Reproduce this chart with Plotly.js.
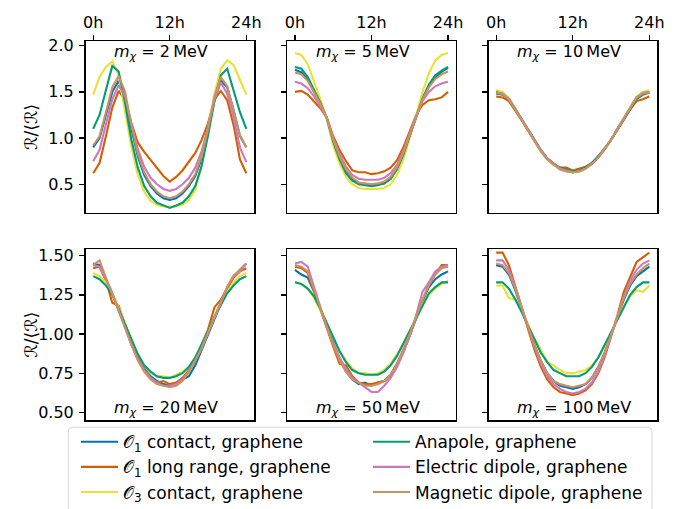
<!DOCTYPE html>
<html><head><meta charset="utf-8">
<script src="https://cdn.plot.ly/plotly-3.0.1.min.js"></script>
<style>html,body{margin:0;padding:0;background:#fff}</style>
</head><body><div id="chart" style="width:679px;height:509px"></div>
<script>
const hours = [0,1,2,3,4,5,6,7,8,9,10,11,12,13,14,15,16,17,18,19,20,21,22,23,24];
const tickHours = [0,12,24];
const tickHourLabels = ['0h','12h','24h'];
const massLabels = ['2','5','10','20','50','100'];
const seriesNames = ['𝒪<sub>1</sub> contact, graphene','𝒪<sub>1</sub> long range, graphene','𝒪<sub>3</sub> contact, graphene','Anapole, graphene','Electric dipole, graphene','Magnetic dipole, graphene'];
const seriesColors = ['#0173B2','#D55E00','#ECE133','#029E73','#CC78BC','#CA9161'];

// m_chi = 2 MeV
const blue_2   = [0.90,1.00,1.25,1.50,1.62,1.45,1.10,0.80,0.60,0.48,0.40,0.35,0.33,0.35,0.40,0.48,0.59,0.78,1.08,1.40,1.62,1.55,1.30,1.02,0.90];
const orange_2 = [0.62,0.73,1.02,1.33,1.51,1.41,1.16,0.95,0.85,0.76,0.67,0.59,0.53,0.58,0.65,0.74,0.84,0.98,1.16,1.42,1.51,1.41,1.14,0.77,0.62];
const yellow_2 = [1.47,1.66,1.77,1.83,1.68,1.30,0.90,0.60,0.42,0.32,0.28,0.26,0.26,0.26,0.28,0.33,0.44,0.70,1.10,1.48,1.75,1.84,1.79,1.62,1.47];
const green_2  = [1.10,1.25,1.52,1.78,1.72,1.38,0.98,0.68,0.48,0.37,0.30,0.27,0.245,0.27,0.30,0.37,0.48,0.70,1.03,1.40,1.68,1.75,1.50,1.28,1.10];
const pink_2   = [0.75,0.87,1.15,1.42,1.57,1.45,1.15,0.88,0.69,0.57,0.50,0.45,0.43,0.45,0.50,0.57,0.68,0.86,1.12,1.42,1.60,1.48,1.22,0.90,0.74];
const tan_2    = [0.92,1.02,1.28,1.55,1.67,1.50,1.14,0.83,0.63,0.50,0.42,0.37,0.35,0.37,0.42,0.50,0.61,0.81,1.10,1.45,1.66,1.56,1.30,1.03,0.90];

// m_chi = 5 MeV
const blue_5   = [1.74,1.71,1.63,1.50,1.37,1.22,0.97,0.78,0.64,0.55,0.51,0.50,0.49,0.50,0.51,0.56,0.67,0.83,1.03,1.23,1.42,1.56,1.65,1.72,1.76];
const orange_5 = [1.50,1.51,1.47,1.40,1.32,1.22,1.02,0.87,0.75,0.65,0.63,0.63,0.61,0.62,0.64,0.68,0.76,0.90,1.07,1.25,1.36,1.41,1.42,1.44,1.50];
const yellow_5 = [1.92,1.90,1.80,1.62,1.42,1.20,0.92,0.72,0.58,0.50,0.46,0.45,0.45,0.45,0.46,0.50,0.60,0.77,1.00,1.25,1.50,1.70,1.84,1.90,1.92];
const green_5  = [1.77,1.75,1.66,1.52,1.38,1.21,0.96,0.77,0.62,0.54,0.50,0.49,0.48,0.49,0.51,0.56,0.66,0.82,1.02,1.23,1.43,1.58,1.68,1.73,1.77];
const pink_5   = [1.61,1.59,1.54,1.45,1.34,1.22,1.00,0.83,0.69,0.60,0.56,0.55,0.55,0.55,0.57,0.62,0.71,0.86,1.05,1.24,1.40,1.50,1.56,1.59,1.61];
const tan_5    = [1.71,1.69,1.62,1.50,1.37,1.22,0.98,0.80,0.66,0.57,0.52,0.51,0.50,0.51,0.53,0.58,0.68,0.84,1.04,1.24,1.42,1.55,1.64,1.69,1.72];

// m_chi = 10 MeV
const blue_10   = [1.50,1.49,1.43,1.32,1.20,1.09,0.98,0.87,0.78,0.72,0.67,0.65,0.63,0.65,0.68,0.73,0.80,0.89,0.98,1.10,1.21,1.33,1.44,1.49,1.50];
const orange_10 = [1.45,1.44,1.40,1.30,1.19,1.08,0.97,0.86,0.77,0.71,0.68,0.68,0.65,0.67,0.69,0.73,0.79,0.88,0.98,1.09,1.20,1.31,1.40,1.42,1.45];
const yellow_10 = [1.52,1.50,1.43,1.31,1.20,1.09,0.97,0.86,0.77,0.71,0.67,0.64,0.63,0.64,0.67,0.72,0.79,0.88,0.98,1.10,1.22,1.34,1.45,1.50,1.52];
const green_10  = [1.48,1.47,1.42,1.31,1.20,1.09,0.98,0.87,0.78,0.72,0.68,0.66,0.64,0.65,0.68,0.73,0.80,0.88,0.98,1.09,1.20,1.32,1.42,1.47,1.49];
const pink_10   = [1.49,1.48,1.42,1.31,1.20,1.09,0.98,0.87,0.78,0.72,0.67,0.65,0.63,0.64,0.67,0.72,0.79,0.88,0.98,1.10,1.21,1.33,1.44,1.48,1.49];
const tan_10    = [1.49,1.48,1.42,1.31,1.20,1.09,0.97,0.86,0.77,0.71,0.66,0.64,0.63,0.64,0.67,0.72,0.79,0.88,0.98,1.10,1.21,1.33,1.44,1.49,1.50];

// m_chi = 20 MeV
const blue_20   = [1.45,1.44,1.35,1.26,1.15,1.05,0.94,0.85,0.78,0.73,0.70,0.68,0.67,0.68,0.71,0.73,0.80,0.90,1.00,1.10,1.20,1.29,1.37,1.41,1.45];
const orange_20 = [1.42,1.43,1.34,1.20,1.18,1.05,0.93,0.84,0.77,0.72,0.69,0.70,0.68,0.69,0.72,0.77,0.84,0.93,1.03,1.17,1.22,1.29,1.36,1.40,1.42];
const yellow_20 = [1.39,1.37,1.33,1.26,1.17,1.06,0.96,0.87,0.80,0.75,0.73,0.73,0.72,0.74,0.76,0.79,0.85,0.93,1.02,1.11,1.20,1.27,1.33,1.37,1.39];
const green_20  = [1.37,1.35,1.31,1.25,1.16,1.06,0.96,0.87,0.80,0.76,0.73,0.72,0.72,0.73,0.75,0.79,0.85,0.93,1.02,1.11,1.19,1.26,1.31,1.35,1.37];
const pink_20   = [1.44,1.43,1.35,1.26,1.15,1.04,0.93,0.84,0.77,0.72,0.69,0.67,0.67,0.68,0.71,0.76,0.83,0.91,1.01,1.11,1.21,1.30,1.37,1.40,1.45];
const tan_20    = [1.44,1.47,1.36,1.26,1.15,1.04,0.93,0.83,0.76,0.71,0.68,0.67,0.66,0.67,0.70,0.76,0.83,0.91,1.01,1.11,1.21,1.30,1.37,1.41,1.45];

// m_chi = 50 MeV
const blue_50   = [1.41,1.38,1.36,1.27,1.16,1.05,0.94,0.84,0.76,0.71,0.68,0.69,0.67,0.69,0.70,0.74,0.81,0.89,0.99,1.10,1.21,1.30,1.35,1.38,1.40];
const orange_50 = [1.43,1.42,1.39,1.27,1.15,1.03,0.92,0.81,0.80,0.73,0.69,0.68,0.68,0.69,0.70,0.74,0.81,0.89,0.99,1.11,1.22,1.32,1.38,1.44,1.44];
const yellow_50 = [1.33,1.32,1.29,1.23,1.15,1.06,0.97,0.89,0.83,0.78,0.75,0.75,0.74,0.75,0.77,0.81,0.87,0.94,1.02,1.11,1.19,1.25,1.29,1.32,1.34];
const green_50  = [1.33,1.32,1.29,1.24,1.16,1.07,0.98,0.89,0.82,0.77,0.75,0.74,0.74,0.74,0.76,0.80,0.86,0.94,1.02,1.11,1.19,1.26,1.30,1.33,1.33];
const pink_50   = [1.45,1.46,1.43,1.30,1.16,1.04,0.94,0.85,0.78,0.72,0.69,0.66,0.63,0.63,0.67,0.72,0.79,0.88,0.99,1.12,1.27,1.33,1.40,1.43,1.44];
const tan_50    = [1.44,1.43,1.40,1.28,1.16,1.04,0.93,0.83,0.76,0.71,0.69,0.67,0.67,0.68,0.70,0.74,0.81,0.90,1.00,1.11,1.22,1.31,1.38,1.42,1.43];

// m_chi = 100 MeV
const blue_100   = [1.44,1.43,1.38,1.28,1.16,1.04,0.93,0.83,0.75,0.70,0.67,0.66,0.65,0.66,0.68,0.72,0.79,0.88,0.99,1.11,1.22,1.31,1.37,1.40,1.43];
const orange_100 = [1.52,1.52,1.44,1.31,1.17,1.03,0.90,0.79,0.71,0.66,0.63,0.62,0.61,0.62,0.64,0.68,0.75,0.85,0.98,1.12,1.27,1.37,1.46,1.49,1.52];
const yellow_100 = [1.31,1.31,1.23,1.22,1.15,1.06,0.97,0.90,0.82,0.80,0.77,0.75,0.75,0.76,0.77,0.80,0.85,0.92,1.00,1.10,1.18,1.24,1.28,1.27,1.31];
const green_100  = [1.33,1.33,1.29,1.22,1.14,1.05,0.96,0.88,0.82,0.77,0.75,0.73,0.73,0.73,0.75,0.79,0.85,0.93,1.01,1.10,1.18,1.25,1.30,1.33,1.33];
const pink_100   = [1.47,1.47,1.41,1.30,1.17,1.04,0.92,0.81,0.73,0.68,0.65,0.63,0.62,0.63,0.65,0.69,0.76,0.86,0.98,1.11,1.24,1.34,1.41,1.45,1.47];
const tan_100    = [1.45,1.44,1.39,1.29,1.17,1.05,0.93,0.83,0.75,0.70,0.68,0.67,0.66,0.67,0.68,0.72,0.79,0.88,0.99,1.11,1.23,1.32,1.38,1.42,1.45];

const panels = [
  [blue_2, orange_2, yellow_2, green_2, pink_2, tan_2],
  [blue_5, orange_5, yellow_5, green_5, pink_5, tan_5],
  [blue_10, orange_10, yellow_10, green_10, pink_10, tan_10],
  [blue_20, orange_20, yellow_20, green_20, pink_20, tan_20],
  [blue_50, orange_50, yellow_50, green_50, pink_50, tan_50],
  [blue_100, orange_100, yellow_100, green_100, pink_100, tan_100]
];

const W = 679, H = 509;
const colPx = [[85.5,254],[287.3,455.7],[488.5,657]];
const rowPx = [[41,212.7],[249.3,420]];
const FONT = 'DejaVu Sans, sans-serif';

const traces = [];
panels.forEach((series, p) => {
  const sfx = p === 0 ? '' : String(p + 1);
  series.forEach((vals, s) => {
    traces.push({
      x: hours, y: vals, type: 'scatter', mode: 'lines',
      xaxis: 'x' + sfx, yaxis: 'y' + sfx,
      name: seriesNames[s],
      line: {color: seriesColors[s], width: 2.1},
      showlegend: p === 0,
      legend: s < 3 ? 'legend' : 'legend2',
      hoverinfo: 'skip'
    });
  });
});

const layout = {
  width: W, height: H,
  margin: {l: 0, r: 0, t: 0, b: 0, autoexpand: false},
  paper_bgcolor: '#fff', plot_bgcolor: '#fff',
  font: {family: FONT, size: 16, color: '#000'},
  annotations: [], shapes: []
};

for (let p = 0; p < 6; p++) {
  const row = Math.floor(p / 3), col = p % 3;
  const sfx = p === 0 ? '' : String(p + 1);
  const xd = [colPx[col][0] / W, colPx[col][1] / W];
  const yd = [1 - rowPx[row][1] / H, 1 - rowPx[row][0] / H];
  layout['xaxis' + sfx] = {
    domain: xd, anchor: 'y' + sfx, range: [-1.2, 25.2],
    side: row === 0 ? 'top' : 'bottom',
    showline: true, mirror: true, linecolor: '#000', linewidth: 1.5,
    showgrid: false, zeroline: false,
    ticks: row === 0 ? 'outside' : '', ticklen: 5, tickwidth: 1.3, tickcolor: '#000',
    tickmode: 'array', tickvals: tickHours, ticktext: tickHourLabels,
    showticklabels: row === 0, tickfont: {size: 16, family: FONT, color: '#000'},
    fixedrange: true
  };
  layout['yaxis' + sfx] = {
    domain: yd, anchor: 'x' + sfx,
    range: row === 0 ? [0.193, 2.05] : [0.451, 1.541],
    showline: true, mirror: true, linecolor: '#000', linewidth: 1.5,
    showgrid: false, zeroline: false,
    ticks: 'outside', ticklen: 5, tickwidth: 1.3, tickcolor: '#000',
    tickmode: 'array',
    tickvals: row === 0 ? [0.5, 1.0, 1.5, 2.0] : [0.5, 0.75, 1.0, 1.25, 1.5],
    tickformat: row === 0 ? '.1f' : '.2f',
    showticklabels: col === 0, ticklabelstandoff: 2,
    tickfont: {size: 16, family: FONT, color: '#000'},
    fixedrange: true
  };
  layout.annotations.push({
    xref: 'x' + sfx, yref: 'y' + sfx + ' domain',
    x: 3, xanchor: 'left',
    y: row === 0 ? 0.935 : 0.065, yanchor: 'middle',
    text: '<i>m</i><sub><i>χ</i></sub> = ' + massLabels[p] + '\u2009MeV',
    showarrow: false, font: {size: 16, family: FONT, color: '#000'}
  });
}

// y titles
[127, 334.7].forEach(cy => {
  layout.annotations.push({
    xref: 'paper', yref: 'paper', x: 31 / W, y: 1 - cy / H,
    xanchor: 'center', yanchor: 'middle', textangle: -90,
    text: 'ℛ/⟨ℛ⟩', showarrow: false,
    font: {size: 17, family: FONT, color: '#000'}
  });
});

// legend frame (rounded)
const lx0 = 68.3 / W, lx1 = 652 / W, ly0 = 1 - 427.3 / H, ly1 = -0.05;
const rx = 4 / W, ry = 4 / H;
layout.shapes.push({
  type: 'path', xref: 'paper', yref: 'paper',
  path: `M${lx0 + rx},${ly0} L${lx1 - rx},${ly0} Q${lx1},${ly0} ${lx1},${ly0 - ry} L${lx1},${ly1} L${lx0},${ly1} L${lx0},${ly0 - ry} Q${lx0},${ly0} ${lx0 + rx},${ly0} Z`,
  line: {color: '#d6d6d6', width: 1}, fillcolor: 'rgba(255,255,255,0.8)'
});

const legendCommon = {
  orientation: 'v', xanchor: 'left', yanchor: 'top', y: 1 - 424.2 / H,
  bgcolor: 'rgba(0,0,0,0)', borderwidth: 0, itemwidth: 37,
  font: {size: 17, family: FONT, color: '#000'}, tracegroupgap: 0
};
layout.legend = Object.assign({}, legendCommon, {x: 76 / W});
layout.legend2 = Object.assign({}, legendCommon, {x: 368 / W});

Plotly.newPlot('chart', traces, layout, {displayModeBar: false, staticPlot: true});
</script></body></html>
